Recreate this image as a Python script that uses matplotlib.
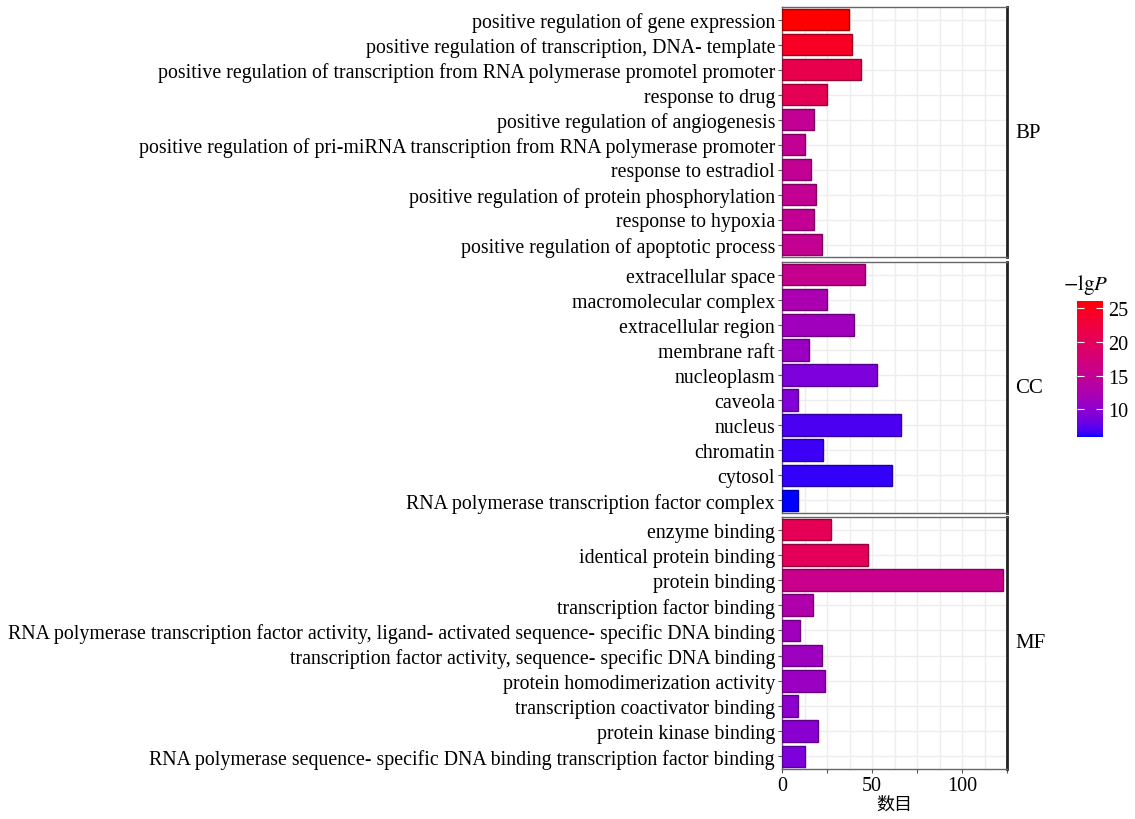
import matplotlib
matplotlib.use("Agg")
import matplotlib.pyplot as plt
import numpy as np
from matplotlib.colors import ListedColormap, Normalize
from matplotlib.colorbar import ColorbarBase

plt.rcParams['font.family'] = ['Liberation Serif', 'DejaVu Serif']
plt.rcParams['mathtext.fontset'] = 'stix'

# GO terms, top to bottom inside each panel
bp_terms = ["positive regulation of gene expression",
            "positive regulation of transcription, DNA- template",
            "positive regulation of transcription from RNA polymerase promotel promoter",
            "response to drug",
            "positive regulation of angiogenesis",
            "positive regulation of pri-miRNA transcription from RNA polymerase promoter",
            "response to estradiol",
            "positive regulation of protein phosphorylation",
            "response to hypoxia",
            "positive regulation of apoptotic process"]
bp_count = [37, 39, 44, 25, 17.5, 12.5, 16, 19, 17.5, 22]
bp_lgp = [26.1, 24.3, 21.3, 20.5, 15, 15, 15, 15, 15, 15.2]

cc_terms = ["extracellular space", "macromolecular complex", "extracellular region",
            "membrane raft", "nucleoplasm", "caveola", "nucleus", "chromatin",
            "cytosol", "RNA polymerase transcription factor complex"]
cc_count = [46, 25, 40, 15, 53, 9, 66, 23, 61, 9]
cc_lgp = [15.5, 12.5, 11.5, 11, 9, 9.3, 7, 6.6, 6.4, 5.9]

mf_terms = ["enzyme binding", "identical protein binding", "protein binding",
            "transcription factor binding",
            "RNA polymerase transcription factor activity, ligand- activated sequence- specific DNA binding",
            "transcription factor activity, sequence- specific DNA binding",
            "protein homodimerization activity", "transcription coactivator binding",
            "protein kinase binding",
            "RNA polymerase sequence- specific DNA binding transcription factor binding"]
mf_count = [27, 48, 123, 17, 10, 22, 24, 9, 20, 12.5]
mf_lgp = [20.5, 20.3, 15.8, 13, 11.5, 11.3, 11, 10, 9.8, 9]

groups = ["BP", "CC", "MF"]
lgp_min, lgp_max = 5.9, 26.1


# blue -> red gradient interpolated in CIELAB (like ggplot's scale_fill_gradient)
M = np.array([[0.4124, 0.3576, 0.1805], [0.2126, 0.7152, 0.0722], [0.0193, 0.1192, 0.9505]])
WHITE = np.array([0.95047, 1.0, 1.08883])

def to_lab(c):
    c = np.asarray(c, float)
    lin = np.where(c <= 0.04045, c / 12.92, ((c + 0.055) / 1.055) ** 2.4)
    xyz = M @ lin / WHITE
    f = np.where(xyz > 216 / 24389, np.cbrt(xyz), (24389 / 27 * xyz + 16) / 116)
    return np.array([116 * f[1] - 16, 500 * (f[0] - f[1]), 200 * (f[1] - f[2])])

def from_lab(lab):
    L, a, b = lab
    fy = (L + 16) / 116
    f = np.array([fy + a / 500, fy, fy - b / 200])
    xyz = np.where(f ** 3 > 216 / 24389, f ** 3, (116 * f - 16) / (24389 / 27)) * WHITE
    lin = np.clip(np.linalg.inv(M) @ xyz, 0, 1)
    rgb = np.where(lin <= 0.0031308, 12.92 * lin, 1.055 * lin ** (1 / 2.4) - 0.055)
    return np.clip(rgb, 0, 1)

lab_lo, lab_hi = to_lab([0, 0, 1]), to_lab([1, 0, 0])
cmap = ListedColormap([from_lab(lab_lo + t * (lab_hi - lab_lo)) for t in np.linspace(0, 1, 256)])
norm = Normalize(lgp_min, lgp_max)

W, H = 1135, 820
fig = plt.figure(figsize=(W / 100, H / 100), dpi=100)

def px_axes(x0, y0, x1, y1):
    return fig.add_axes([x0 / W, 1 - y1 / H, (x1 - x0) / W, (y1 - y0) / H])

panels = [(bp_terms, bp_count, bp_lgp, 8, 258),
          (cc_terms, cc_count, cc_lgp, 263, 514),
          (mf_terms, mf_count, mf_lgp, 518, 770)]

for gi, (terms, counts, lgp, top, bottom) in enumerate(panels):
    ax = px_axes(782, top, 1007, bottom)
    n = len(terms)
    ypos = np.arange(n, 0, -1)
    cols = cmap(norm(lgp))
    edges = [tuple(np.array(c[:3]) * 0.65) for c in cols]
    ax.barh(ypos, counts, height=0.86, color=cols, edgecolor=edges, linewidth=1.0, zorder=3)
    ax.set_xlim(0, 125)
    ax.set_ylim(0.5, n + 0.5)
    ax.set_xticks(np.arange(0, 126, 12.5), minor=True)
    ax.set_xticks([0, 25, 50, 75, 100, 125])
    ax.set_yticks(ypos)
    ax.set_yticklabels(terms, fontsize=14.3)
    ax.grid(True, which='both', axis='x', color='#ededed', linewidth=1.0, zorder=0)
    ax.grid(True, which='major', axis='y', color='#ededed', linewidth=1.0, zorder=0)
    ax.tick_params(axis='y', length=3, width=0.8, color='#555555', pad=2)
    ax.tick_params(axis='x', which='minor', length=0)
    for s in ['top', 'left', 'bottom']:
        ax.spines[s].set_color('#666666')
        ax.spines[s].set_linewidth(1.0)
    ax.spines['right'].set_color('#222222')
    ax.spines['right'].set_linewidth(2.0)
    if gi < 2:
        ax.tick_params(axis='x', which='major', length=0, labelbottom=False)
    else:
        ax.tick_params(axis='x', which='major', length=3, width=0.8, color='#555555',
                       labelsize=14.5, pad=2)
        ax.set_xticklabels(["0", "", "50", "", "100", ""])
        ax.set_xlabel("数目", fontsize=13, labelpad=0,
                      family=['Noto Sans CJK SC', 'DejaVu Sans'])
    fig.text(1015 / W, 1 - (top + bottom) / 2 / H, groups[gi], fontsize=15,
             ha='left', va='center')

# colour bar
cax = px_axes(1077, 302, 1103, 438)
cb = ColorbarBase(cax, cmap=cmap, norm=norm, orientation='vertical')
cb.set_ticks([10, 15, 20, 25])
cb.outline.set_visible(False)
cax.tick_params(axis='y', direction='in', length=5, color='white', width=0.8,
                labelsize=14.5, pad=4, left=True)
fig.text(1063 / W, 1 - 285 / H, r"$-\mathrm{lg}\mathit{P}$", fontsize=15,
         ha='left', va='center')

fig.savefig("out.png", dpi=100)
